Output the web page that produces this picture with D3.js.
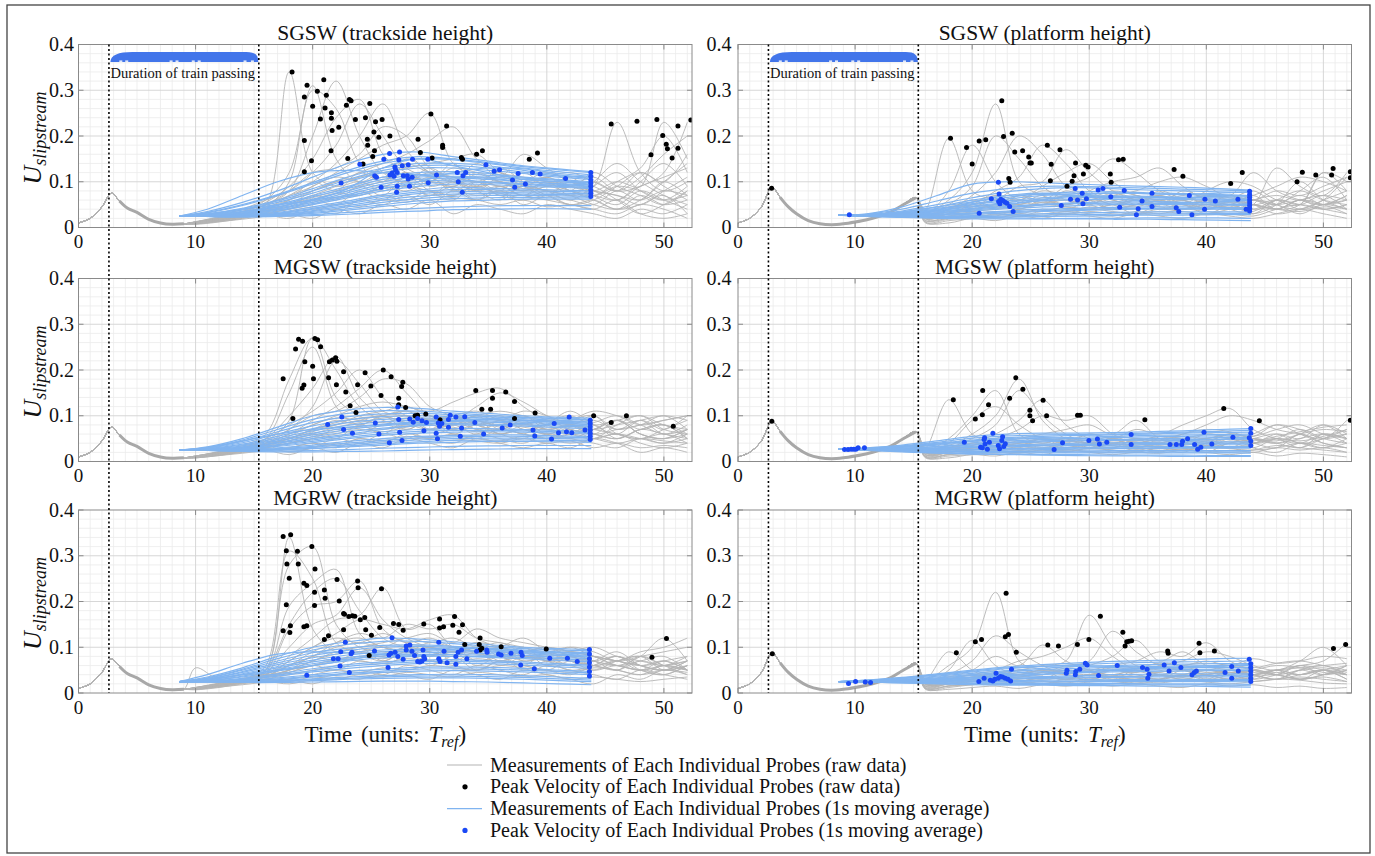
<!DOCTYPE html>
<html>
<head>
<meta charset="utf-8">
<script src="https://cdn.jsdelivr.net/npm/d3@7"></script>
<style>
  body { margin: 0; background: #fff; }
  text { fill: #111; }
</style>
</head>
<body>
<script>
// axis ticks
const X_MAX = 52.4;
const X_TICKS = [0, 10, 20, 30, 40, 50];
const Y_TICKS = [0, 0.1, 0.2, 0.3, 0.4];
const Y_TICK_LABELS = ["0", "0.1", "0.2", "0.3", "0.4"];
const TRAIN_START = 2.6, TRAIN_END = 15.4;

// shared start of the raw traces (before the train tail)
const ONSET_TRACK_T = [0, 1, 2, 2.8, 3.5, 4.2, 5, 6, 7, 8, 9];
const ONSET_TRACK_U = [.01, .02, .045, .075, .058, .042, .033, .018, .01, .007, .008];
const ONSET_PLAT_T = [0, 1, 2, 2.9, 3.6, 4.3, 5, 6, 7, 8, 9, 10, 11, 12, 13, 14, 15.2];
const ONSET_PLAT_U = [.01, .02, .045, .088, .066, .045, .03, .015, .008, .006, .008, .012, .017, .024, .033, .048, .065];

// time grids
const RAW_TRACK_T = [10, 12, 14, 16, 18, 20, 22, 24, 26, 28, 30, 32, 34, 36, 38, 40, 42, 44, 46, 48, 50, 52];
const RAW_PLAT_T = [16, 18, 20, 22, 24, 26, 28, 30, 32, 34, 36, 38, 40, 42, 44, 46, 48, 50, 52];
const AVG_T = [8.6, 11, 14, 17, 20, 23, 26, 29, 32, 35, 38, 41, 43.8];

// ---------- SGSW trackside ----------
const sgswTrackRaw = [
  [.012,.02,.03,.05,.34,.12,.09,.1,.08,.1,.07,.09,.06,.08,.05,.07,.06,.05,.08,.06,.1,.07],
  [.01,.018,.035,.06,.12,.31,.15,.1,.12,.09,.11,.08,.1,.07,.09,.08,.06,.09,.12,.08,.06,.09],
  [.013,.022,.03,.045,.1,.3,.26,.14,.1,.12,.09,.1,.08,.11,.09,.07,.1,.08,.06,.1,.14,.09],
  [.009,.016,.028,.05,.08,.2,.32,.2,.12,.1,.13,.1,.08,.09,.07,.09,.08,.12,.09,.07,.05,.08],
  [.011,.02,.033,.055,.09,.15,.24,.28,.16,.12,.1,.14,.09,.1,.08,.1,.07,.09,.23,.12,.08,.1],
  [.012,.024,.04,.06,.08,.12,.18,.27,.2,.13,.11,.09,.12,.1,.09,.11,.08,.07,.1,.13,.2,.12],
  [.008,.015,.025,.04,.07,.1,.14,.2,.27,.17,.12,.1,.09,.13,.1,.08,.09,.11,.08,.09,.12,.23],
  [.01,.02,.03,.05,.08,.12,.13,.16,.22,.2,.13,.11,.1,.09,.08,.1,.09,.08,.07,.06,.08,.07],
  [.012,.022,.035,.05,.07,.09,.12,.15,.18,.2,.25,.14,.12,.1,.08,.09,.1,.07,.09,.08,.06,.07],
  [.01,.018,.03,.045,.06,.08,.1,.12,.14,.16,.19,.22,.15,.12,.11,.1,.09,.1,.08,.12,.1,.16],
  [.009,.016,.024,.035,.05,.07,.09,.11,.12,.13,.14,.15,.16,.12,.1,.11,.09,.08,.1,.09,.23,.15],
  [.011,.02,.03,.04,.04,.06,.05,.08,.06,.09,.07,.1,.08,.06,.09,.07,.05,.06,.04,.07,.05,.06],
  [.007,.012,.02,.03,.03,.02,.04,.03,.05,.04,.06,.03,.05,.04,.03,.05,.04,.03,.02,.04,.03,.05],
  [.01,.015,.025,.035,.045,.07,.06,.09,.07,.11,.08,.06,.1,.08,.12,.09,.11,.07,.05,.08,.06,.04],
  [.008,.014,.022,.028,.02,.04,.03,.06,.05,.07,.05,.08,.06,.09,.07,.1,.08,.06,.04,.05,.07,.03],
  [.012,.02,.028,.04,.06,.1,.08,.12,.1,.15,.12,.1,.14,.11,.16,.13,.1,.09,.06,.03,.05,.08],
  [.01,.017,.026,.038,.05,.065,.08,.095,.11,.1,.12,.105,.09,.1,.085,.095,.08,.07,.06,.09,.11,.13],
  [.009,.014,.02,.03,.04,.05,.065,.07,.085,.09,.08,.07,.085,.075,.065,.08,.07,.1,.14,.1,.07,.05],
  [.011,.019,.028,.036,.045,.055,.07,.09,.1,.12,.1,.13,.11,.09,.1,.12,.1,.08,.07,.05,.08,.11],
  [.008,.013,.018,.025,.035,.045,.04,.06,.07,.06,.08,.07,.09,.07,.06,.07,.05,.06,.09,.12,.09,.06],
  [.012,.021,.03,.04,.05,.08,.1,.11,.13,.14,.12,.11,.1,.12,.09,.08,.07,.05,.04,.06,.1,.14],
  [.01,.016,.022,.03,.025,.035,.05,.045,.06,.055,.07,.065,.06,.05,.06,.045,.05,.04,.06,.03,.02,.03],
  [.009,.015,.024,.032,.04,.06,.075,.07,.09,.08,.1,.09,.11,.1,.09,.11,.12,.1,.08,.11,.16,.2],
  [.011,.018,.027,.04,.06,.09,.11,.1,.09,.11,.1,.085,.07,.08,.07,.06,.05,.04,.03,.05,.04,.02]
];
const sgswTrackAvg = [
  [.025,.035,.055,.08,.11,.14,.16,.165,.155,.145,.135,.128,.122],
  [.025,.032,.048,.07,.095,.12,.14,.15,.148,.14,.13,.122,.115],
  [.025,.03,.042,.06,.085,.11,.13,.14,.14,.135,.125,.115,.11],
  [.025,.028,.038,.055,.075,.1,.12,.13,.13,.125,.118,.11,.105],
  [.025,.027,.035,.05,.07,.09,.11,.12,.122,.118,.11,.105,.1],
  [.025,.026,.032,.045,.062,.08,.1,.11,.112,.11,.105,.1,.095],
  [.025,.026,.03,.04,.055,.072,.09,.1,.104,.1,.096,.092,.09],
  [.025,.025,.028,.036,.05,.065,.08,.09,.095,.094,.09,.088,.085],
  [.025,.025,.027,.033,.045,.058,.072,.082,.088,.086,.084,.082,.08],
  [.025,.025,.026,.03,.04,.052,.064,.074,.078,.078,.076,.075,.074],
  [.025,.024,.025,.028,.035,.045,.055,.063,.068,.07,.07,.069,.068],
  [.025,.024,.024,.026,.031,.038,.046,.053,.058,.06,.062,.062,.062],
  [.025,.024,.023,.025,.028,.033,.038,.042,.045,.047,.048,.048,.048],
  [.025,.024,.023,.024,.026,.029,.033,.036,.039,.04,.041,.041,.04],
  [.025,.04,.07,.1,.12,.125,.12,.115,.11,.108,.1,.095,.09],
  [.025,.03,.04,.05,.06,.085,.13,.15,.135,.12,.105,.1,.098],
  [.025,.028,.035,.045,.06,.07,.085,.1,.12,.13,.128,.118,.112],
  [.025,.033,.05,.072,.098,.125,.145,.155,.15,.142,.133,.126,.12],
  [.025,.029,.04,.058,.08,.105,.125,.135,.136,.13,.121,.113,.108],
  [.025,.027,.034,.048,.067,.085,.105,.115,.117,.114,.108,.103,.098],
  [.025,.026,.031,.042,.058,.076,.095,.105,.108,.105,.1,.096,.093],
  [.025,.025,.029,.038,.052,.068,.085,.095,.1,.098,.094,.09,.087],
  [.025,.025,.027,.031,.042,.055,.068,.078,.083,.083,.08,.079,.077],
  [.025,.024,.025,.029,.037,.048,.06,.068,.073,.074,.073,.072,.071],
  [.025,.024,.024,.027,.033,.041,.05,.058,.063,.065,.066,.065,.065]
];
const sgswTrackPeakRaw = [[18.24,.340],[19.52,.311],[19.29,.285],[20.4,.298],[20.95,.323],[21.17,.289],[20.0,.265],[21.06,.261],[21.6,.251],[20.66,.237],[21.6,.239],[21.66,.212],[22.23,.219],[23.14,.280],[23.28,.277],[22.88,.267],[23.65,.236],[24.51,.240],[24.88,.271],[25.37,.231],[25.93,.236],[25.23,.209],[25.65,.197],[24.67,.193],[24.7,.180],[25.28,.168],[25.13,.155],[23.0,.151],[21.57,.168],[19.9,.146],[19.29,.190],[19.29,.122],[24.3,.139],[26.6,.200],[29.0,.193],[30.1,.248],[31.44,.222],[29.2,.164],[30.2,.152],[31.1,.180],[31.1,.175],[32.7,.153],[32.8,.149],[34.0,.160],[34.5,.168],[38.5,.149],[39.2,.163],[45.5,.226],[47.7,.232],[49.4,.236],[51.2,.222],[52.3,.235],[49.9,.201],[50.2,.182],[51.2,.173],[50.3,.172],[50.7,.152],[48.9,.159]];
const sgswTrackPeakAvg = [[22.43,.097],[24.03,.138],[25.3,.113],[25.45,.110],[25.85,.088],[26.08,.149],[26.57,.162],[27.42,.165],[27.02,.132],[27.08,.126],[26.6,.115],[26.79,.119],[26.95,.112],[27.22,.120],[27.36,.148],[27.65,.135],[28.16,.137],[28.53,.149],[27.74,.113],[28.08,.113],[28.16,.106],[28.5,.110],[27.22,.090],[28.27,.090],[27.17,.077],[29.84,.149],[29.87,.098],[30.58,.115],[32.35,.120],[32.84,.113],[33.07,.120],[32.44,.100],[32.78,.077],[34.8,.137],[35.5,.123],[35.96,.126],[37.07,.104],[37.55,.118],[37.26,.088],[38.17,.095],[38.77,.120],[39.43,.117],[41.6,.107],[43.76,.120],[43.76,.112],[43.76,.104],[43.76,.097],[43.76,.090],[43.76,.082],[43.76,.075],[43.76,.068]];

// ---------- SGSW platform ----------
const sgswPlatRaw = [
  [.04,.195,.08,.06,.05,.07,.04,.06,.05,.03,.05,.04,.06,.04,.03,.05,.1,.06,.04],
  [.03,.08,.18,.1,.06,.05,.07,.05,.04,.06,.04,.05,.03,.05,.06,.04,.05,.12,.08],
  [.035,.06,.12,.27,.1,.07,.05,.06,.04,.05,.07,.05,.04,.06,.05,.03,.04,.06,.11],
  [.025,.05,.09,.2,.15,.09,.06,.05,.07,.05,.06,.04,.05,.04,.06,.05,.03,.05,.04],
  [.03,.04,.07,.12,.2,.16,.09,.07,.05,.06,.05,.07,.05,.06,.04,.05,.07,.05,.06],
  [.02,.04,.05,.08,.11,.18,.14,.08,.06,.05,.07,.04,.06,.05,.07,.04,.06,.04,.05],
  [.028,.03,.05,.06,.09,.1,.17,.12,.08,.06,.05,.06,.04,.05,.03,.06,.05,.07,.04],
  [.02,.035,.04,.07,.06,.09,.12,.14,.1,.07,.06,.05,.06,.04,.05,.04,.06,.05,.03],
  [.025,.03,.045,.05,.07,.06,.09,.11,.15,.12,.08,.06,.05,.07,.05,.06,.04,.05,.06],
  [.02,.03,.04,.045,.05,.06,.05,.08,.1,.11,.13,.09,.06,.05,.04,.06,.05,.04,.05],
  [.015,.025,.035,.04,.045,.05,.06,.05,.07,.08,.1,.11,.09,.07,.12,.08,.06,.05,.07],
  [.018,.02,.03,.025,.04,.035,.045,.04,.05,.045,.06,.05,.08,.1,.09,.06,.05,.12,.1],
  [.01,.015,.02,.03,.025,.035,.03,.04,.035,.03,.04,.035,.03,.04,.05,.13,.09,.07,.12],
  [.012,.01,.02,.015,.025,.02,.03,.025,.02,.03,.025,.02,.03,.025,.02,.03,.04,.03,.02],
  [.025,.04,.06,.04,.07,.05,.08,.06,.04,.07,.05,.08,.06,.04,.06,.05,.08,.11,.06],
  [.03,.02,.035,.05,.04,.06,.05,.07,.06,.05,.08,.06,.04,.06,.08,.05,.04,.06,.08],
  [.03,.04,.05,.045,.06,.055,.07,.065,.08,.07,.06,.075,.065,.055,.07,.09,.11,.1,.08],
  [.02,.025,.03,.035,.03,.04,.035,.045,.04,.05,.045,.04,.05,.045,.06,.07,.06,.08,.1],
  [.035,.05,.045,.06,.05,.065,.06,.07,.055,.065,.05,.06,.07,.06,.05,.04,.06,.05,.07],
  [.015,.02,.025,.02,.03,.025,.035,.03,.025,.035,.03,.04,.035,.03,.025,.04,.05,.04,.03],
  [.025,.035,.04,.05,.045,.055,.05,.06,.07,.06,.05,.065,.055,.07,.06,.08,.07,.09,.11],
  [.02,.03,.035,.03,.04,.05,.045,.04,.05,.06,.055,.05,.045,.055,.05,.04,.035,.045,.04],
  [.012,.018,.022,.028,.025,.03,.028,.035,.03,.028,.035,.03,.028,.03,.035,.06,.08,.06,.05],
  [.03,.045,.055,.07,.06,.08,.07,.06,.075,.065,.07,.06,.07,.065,.06,.05,.06,.07,.06]
];
const sgswPlatAvg = [
  [.027,.03,.045,.07,.095,.1,.098,.095,.092,.09,.088,.085,.082],
  [.027,.028,.036,.05,.065,.078,.085,.087,.085,.082,.08,.078,.077],
  [.027,.028,.034,.045,.056,.066,.074,.078,.078,.076,.074,.072,.07],
  [.027,.027,.032,.04,.05,.058,.065,.068,.069,.068,.066,.065,.064],
  [.027,.027,.03,.037,.045,.052,.058,.061,.062,.062,.061,.06,.058],
  [.027,.026,.029,.034,.04,.046,.051,.054,.056,.056,.055,.054,.053],
  [.027,.026,.028,.031,.036,.041,.045,.048,.05,.05,.05,.049,.048],
  [.027,.026,.027,.029,.032,.036,.04,.042,.044,.045,.045,.044,.043],
  [.027,.025,.026,.027,.029,.032,.035,.037,.039,.04,.04,.04,.039],
  [.027,.025,.025,.025,.026,.028,.03,.032,.033,.034,.034,.034,.034],
  [.027,.024,.023,.022,.022,.023,.024,.025,.026,.027,.027,.028,.028],
  [.027,.024,.022,.02,.019,.019,.019,.02,.02,.021,.021,.021,.02],
  [.027,.025,.024,.023,.022,.021,.02,.019,.018,.018,.017,.016,.015],
  [.027,.026,.03,.038,.055,.07,.075,.07,.062,.058,.055,.056,.06],
  [.027,.027,.031,.036,.042,.05,.06,.07,.075,.074,.072,.075,.078],
  [.027,.029,.04,.058,.075,.085,.09,.09,.088,.086,.084,.082,.08],
  [.027,.028,.033,.042,.052,.062,.07,.074,.075,.074,.072,.07,.068],
  [.027,.027,.031,.038,.047,.055,.062,.065,.066,.065,.063,.062,.061],
  [.027,.026,.028,.032,.038,.044,.049,.052,.053,.053,.052,.051,.05],
  [.027,.026,.026,.028,.031,.034,.037,.039,.041,.042,.042,.041,.041],
  [.027,.025,.024,.024,.024,.025,.027,.028,.029,.03,.03,.031,.031],
  [.027,.028,.034,.045,.06,.07,.072,.07,.068,.066,.066,.068,.07]
];
const sgswPlatPeakRaw = [[2.87,.086],[18.15,.195],[19.52,.175],[20.0,.139],[20.6,.189],[21.16,.192],[22.53,.277],[22.68,.199],[23.42,.206],[23.13,.107],[23.24,.099],[23.64,.165],[24.31,.168],[24.83,.154],[24.94,.141],[25.05,.141],[26.42,.180],[26.68,.102],[26.75,.138],[27.5,.170],[28.1,.090],[28.54,.101],[28.7,.113],[28.83,.141],[29.5,.117],[29.7,.136],[29.9,.132],[31.8,.117],[31.87,.099],[32.5,.148],[32.9,.149],[37.25,.127],[38.0,.112],[42.08,.096],[43.07,.120],[47.75,.100],[48.2,.121],[49.35,.115],[50.7,.115],[50.83,.129],[52.3,.122],[52.3,.109]];
const sgswPlatPeakAvg = [[9.51,.028],[20.6,.031],[21.64,.063],[22.24,.099],[22.3,.073],[22.26,.057],[22.45,.062],[22.63,.059],[22.82,.055],[22.97,.053],[23.2,.046],[23.5,.035],[22.37,.052],[27.61,.048],[28.4,.062],[28.8,.085],[29.0,.060],[29.4,.075],[29.46,.052],[29.76,.063],[30.76,.082],[31.17,.085],[31.84,.067],[32.99,.081],[32.6,.044],[34.03,.028],[34.18,.041],[34.51,.058],[35.36,.075],[35.36,.046],[37.43,.043],[37.65,.035],[38.55,.070],[38.77,.028],[39.85,.040],[39.88,.062],[40.77,.058],[42.7,.062],[43.4,.040],[43.7,.079],[43.7,.072],[43.7,.066],[43.7,.060],[43.7,.054],[43.7,.048],[43.7,.042],[43.7,.036]];

// ---------- MGSW trackside ----------
const mgswTrackRaw = [
  [.01,.02,.03,.05,.15,.25,.12,.08,.1,.07,.09,.06,.08,.06,.07,.05,.06,.08,.05,.07,.06,.05],
  [.012,.022,.035,.06,.18,.27,.14,.1,.08,.1,.07,.08,.06,.09,.07,.06,.05,.07,.09,.06,.05,.07],
  [.009,.018,.028,.045,.09,.27,.2,.12,.09,.08,.1,.07,.09,.06,.08,.07,.06,.05,.08,.1,.07,.06],
  [.011,.02,.03,.05,.1,.16,.23,.14,.1,.09,.08,.1,.07,.08,.06,.09,.07,.06,.05,.07,.08,.05],
  [.01,.019,.027,.04,.07,.12,.22,.17,.11,.1,.09,.08,.1,.07,.09,.06,.08,.07,.06,.05,.07,.09],
  [.012,.021,.032,.05,.08,.11,.15,.2,.14,.1,.09,.1,.08,.07,.09,.08,.06,.07,.09,.06,.05,.06],
  [.008,.015,.025,.04,.06,.09,.12,.16,.2,.15,.1,.09,.08,.1,.07,.08,.09,.1,.06,.05,.06,.04],
  [.01,.018,.03,.045,.07,.1,.11,.14,.18,.17,.12,.1,.09,.08,.1,.07,.08,.06,.07,.08,.1,.07],
  [.011,.02,.03,.04,.06,.08,.1,.12,.13,.12,.11,.13,.15,.16,.12,.09,.08,.07,.09,.06,.05,.07],
  [.009,.016,.025,.035,.05,.07,.08,.1,.11,.12,.1,.09,.12,.15,.13,.1,.08,.1,.07,.09,.06,.08],
  [.01,.017,.026,.03,.04,.05,.07,.06,.08,.07,.09,.08,.1,.09,.11,.1,.08,.06,.09,.07,.08,.05],
  [.008,.013,.02,.025,.03,.04,.03,.05,.04,.06,.05,.04,.06,.05,.04,.06,.05,.04,.03,.05,.04,.06],
  [.012,.02,.028,.035,.02,.03,.05,.04,.06,.05,.07,.06,.05,.07,.06,.05,.07,.05,.06,.04,.03,.04],
  [.01,.015,.022,.03,.045,.06,.05,.08,.06,.09,.07,.1,.08,.06,.05,.08,.11,.08,.06,.09,.07,.1],
  [.009,.014,.02,.025,.015,.03,.02,.04,.03,.05,.04,.03,.05,.04,.03,.04,.03,.05,.04,.02,.03,.02],
  [.011,.02,.03,.04,.05,.07,.09,.08,.1,.11,.09,.1,.08,.09,.1,.08,.09,.11,.1,.08,.09,.1],
  [.01,.017,.026,.036,.05,.065,.08,.09,.1,.085,.095,.08,.09,.075,.085,.07,.08,.09,.07,.08,.09,.1],
  [.009,.015,.022,.03,.04,.055,.065,.075,.07,.08,.07,.085,.07,.06,.07,.06,.075,.085,.1,.08,.06,.07],
  [.011,.019,.027,.034,.045,.06,.075,.085,.095,.1,.09,.1,.11,.09,.08,.09,.07,.06,.05,.07,.08,.06],
  [.008,.013,.018,.024,.03,.04,.035,.05,.045,.055,.05,.06,.05,.045,.055,.05,.04,.05,.06,.05,.04,.05],
  [.012,.02,.028,.038,.05,.07,.085,.095,.1,.11,.1,.09,.1,.11,.1,.09,.1,.08,.09,.1,.08,.07],
  [.01,.016,.022,.028,.022,.03,.04,.035,.05,.045,.055,.05,.045,.04,.05,.04,.045,.03,.04,.03,.035,.03],
  [.009,.015,.023,.03,.04,.05,.06,.07,.065,.075,.08,.07,.08,.085,.075,.07,.08,.07,.08,.09,.1,.09],
  [.011,.018,.026,.036,.055,.08,.095,.09,.085,.095,.08,.075,.065,.07,.06,.05,.06,.05,.04,.05,.045,.04]
];
const mgswTrackAvg = [
  [.025,.032,.05,.075,.1,.113,.118,.116,.11,.105,.1,.097,.095],
  [.025,.03,.044,.065,.085,.098,.104,.105,.102,.098,.094,.09,.088],
  [.025,.028,.038,.055,.072,.085,.092,.095,.094,.092,.089,.086,.084],
  [.025,.027,.034,.048,.062,.074,.082,.086,.087,.086,.083,.08,.078],
  [.025,.026,.031,.042,.054,.065,.073,.078,.08,.079,.077,.074,.072],
  [.025,.026,.029,.037,.047,.057,.065,.07,.072,.072,.07,.068,.066],
  [.025,.025,.027,.033,.041,.05,.057,.062,.064,.065,.064,.062,.06],
  [.025,.025,.026,.03,.036,.044,.05,.055,.057,.058,.058,.056,.055],
  [.025,.024,.025,.027,.031,.037,.043,.047,.05,.051,.051,.05,.049],
  [.025,.024,.024,.025,.028,.032,.036,.04,.042,.044,.044,.043,.042],
  [.025,.024,.023,.023,.024,.026,.029,.031,.033,.034,.035,.035,.035],
  [.025,.024,.022,.021,.021,.022,.023,.025,.026,.027,.028,.028,.028],
  [.025,.03,.045,.06,.07,.075,.08,.085,.09,.092,.09,.085,.08],
  [.025,.026,.03,.04,.05,.06,.07,.08,.088,.094,.096,.095,.092],
  [.025,.031,.047,.07,.092,.105,.111,.11,.106,.101,.097,.093,.091],
  [.025,.029,.041,.06,.078,.091,.098,.1,.098,.095,.091,.088,.086],
  [.025,.027,.036,.051,.067,.079,.087,.09,.09,.089,.086,.083,.081],
  [.025,.026,.032,.045,.058,.07,.078,.082,.083,.082,.08,.077,.075],
  [.025,.025,.028,.035,.044,.053,.061,.066,.068,.068,.067,.065,.063],
  [.025,.025,.026,.028,.033,.04,.046,.051,.054,.055,.055,.053,.052],
  [.025,.024,.024,.026,.029,.034,.039,.043,.046,.047,.047,.046,.045]
];
const mgswTrackPeakRaw = [[17.48,.181],[18.31,.094],[18.54,.246],[18.8,.267],[19.14,.263],[19.33,.218],[19.1,.160],[19.25,.167],[20.0,.208],[20.19,.269],[20.42,.266],[20.68,.251],[20.07,.181],[21.43,.218],[21.68,.222],[21.96,.227],[22.07,.219],[21.36,.183],[22.03,.168],[22.64,.196],[22.83,.152],[23.2,.122],[23.7,.107],[23.84,.168],[24.48,.194],[24.97,.165],[25.84,.144],[26.03,.200],[26.7,.185],[27.35,.138],[27.6,.164],[27.7,.173],[27.35,.124],[27.94,.118],[28.96,.101],[29.66,.104],[30.88,.091],[28.75,.100],[33.93,.155],[35.36,.155],[35.36,.138],[35.2,.114],[34.45,.114],[36.49,.152],[37.24,.131],[37.24,.094],[39.0,.106],[44.0,.100],[45.5,.085],[46.8,.100],[50.8,.077]];
const mgswTrackPeakAvg = [[21.28,.081],[22.49,.097],[22.64,.070],[23.4,.062],[25.35,.084],[25.66,.060],[26.55,.041],[27.27,.119],[27.35,.092],[27.43,.064],[27.63,.046],[28.29,.093],[28.59,.086],[28.96,.094],[29.34,.089],[29.5,.067],[29.72,.085],[30.55,.097],[30.73,.084],[30.84,.077],[30.55,.062],[30.66,.050],[31.03,.083],[31.75,.101],[31.6,.092],[31.6,.075],[32.23,.097],[32.72,.073],[32.61,.055],[32.99,.098],[33.85,.085],[34.6,.060],[36.19,.073],[36.87,.080],[38.82,.069],[38.97,.056],[40.4,.049],[40.63,.083],[41.0,.063],[41.91,.097],[41.68,.065],[42.13,.063],[43.26,.069],[43.71,.090],[43.71,.083],[43.71,.076],[43.71,.069],[43.71,.062],[43.71,.055],[43.71,.048]];

// ---------- MGSW platform ----------
const mgswPlatRaw = [
  [.03,.135,.06,.04,.03,.05,.03,.04,.02,.03,.04,.03,.02,.04,.03,.05,.04,.03,.05],
  [.025,.05,.1,.155,.06,.04,.05,.03,.04,.03,.02,.04,.03,.05,.04,.03,.06,.04,.03],
  [.02,.04,.09,.12,.08,.05,.04,.03,.05,.04,.03,.02,.04,.03,.05,.04,.03,.05,.06],
  [.03,.035,.06,.1,.18,.09,.05,.04,.03,.05,.04,.03,.04,.05,.03,.02,.04,.03,.04],
  [.02,.03,.05,.08,.155,.1,.06,.04,.05,.03,.04,.05,.03,.04,.05,.06,.04,.05,.07],
  [.025,.03,.04,.06,.09,.135,.08,.05,.04,.05,.03,.04,.05,.03,.04,.05,.03,.06,.05],
  [.015,.025,.035,.05,.07,.1,.09,.1,.06,.04,.05,.03,.04,.06,.04,.05,.07,.05,.04],
  [.02,.02,.03,.04,.05,.06,.07,.08,.06,.09,.05,.04,.06,.05,.04,.06,.05,.08,.06],
  [.018,.025,.03,.035,.04,.05,.04,.06,.05,.07,.06,.08,.1,.116,.07,.05,.04,.06,.05],
  [.012,.02,.025,.03,.035,.03,.04,.035,.045,.04,.05,.06,.08,.1,.09,.07,.06,.05,.09],
  [.01,.015,.02,.025,.02,.03,.025,.035,.03,.04,.035,.045,.05,.06,.05,.04,.06,.08,.05],
  [.008,.012,.015,.02,.018,.025,.02,.03,.025,.02,.03,.025,.035,.03,.02,.03,.025,.03,.02],
  [.015,.02,.03,.025,.04,.035,.045,.04,.035,.045,.04,.05,.045,.06,.055,.08,.06,.04,.03],
  [.01,.008,.015,.012,.02,.015,.025,.02,.015,.02,.018,.025,.02,.015,.02,.012,.018,.015,.01],
  [.02,.03,.025,.04,.035,.05,.045,.06,.05,.045,.055,.05,.06,.055,.05,.045,.06,.07,.065],
  [.02,.03,.04,.035,.045,.04,.05,.045,.055,.05,.045,.055,.05,.06,.055,.07,.08,.06,.05],
  [.015,.02,.025,.03,.025,.035,.03,.04,.035,.03,.04,.035,.045,.04,.06,.08,.07,.05,.06],
  [.025,.035,.03,.045,.04,.05,.045,.04,.05,.045,.055,.05,.04,.05,.045,.055,.065,.075,.08],
  [.01,.015,.018,.022,.02,.025,.022,.028,.025,.022,.028,.025,.03,.028,.025,.03,.04,.035,.03],
  [.02,.025,.035,.04,.035,.045,.05,.045,.04,.05,.045,.06,.07,.065,.05,.04,.05,.06,.04],
  [.018,.022,.028,.025,.032,.028,.035,.03,.038,.035,.03,.038,.035,.045,.04,.05,.045,.055,.07],
  [.012,.016,.02,.018,.024,.02,.026,.022,.02,.026,.022,.028,.024,.02,.025,.035,.03,.025,.02]
];
const mgswPlatAvg = [
  [.027,.03,.036,.045,.055,.06,.062,.062,.063,.065,.067,.07,.072],
  [.027,.029,.033,.04,.047,.052,.055,.057,.058,.06,.062,.063,.064],
  [.027,.028,.031,.036,.041,.045,.048,.05,.052,.054,.055,.056,.056],
  [.027,.027,.029,.032,.036,.04,.043,.045,.046,.047,.048,.049,.049],
  [.027,.027,.028,.03,.033,.036,.038,.04,.041,.042,.043,.043,.043],
  [.027,.026,.027,.028,.03,.032,.034,.035,.036,.037,.038,.038,.038],
  [.027,.026,.026,.026,.027,.028,.03,.031,.032,.033,.033,.033,.033],
  [.027,.026,.025,.025,.025,.025,.026,.027,.028,.028,.029,.029,.029],
  [.027,.025,.024,.023,.022,.022,.023,.023,.024,.024,.024,.024,.024],
  [.027,.025,.023,.021,.02,.019,.019,.019,.019,.019,.019,.019,.018],
  [.027,.025,.022,.019,.017,.016,.015,.015,.014,.014,.014,.013,.013],
  [.027,.028,.032,.038,.045,.05,.052,.05,.048,.047,.046,.048,.05],
  [.027,.029,.034,.042,.051,.056,.058,.059,.06,.062,.064,.066,.068],
  [.027,.028,.032,.038,.044,.048,.051,.053,.055,.057,.058,.059,.06],
  [.027,.027,.029,.033,.038,.042,.045,.047,.048,.05,.051,.052,.052],
  [.027,.026,.027,.029,.031,.034,.036,.037,.038,.039,.04,.04,.04],
  [.027,.026,.025,.026,.026,.027,.028,.029,.03,.03,.031,.031,.031],
  [.027,.025,.023,.022,.021,.021,.021,.021,.021,.021,.021,.021,.021],
  [.027,.024,.021,.018,.016,.015,.014,.013,.012,.012,.011,.011,.011]
];
const mgswPlatPeakRaw = [[2.89,.088],[18.39,.135],[20.27,.093],[20.87,.102],[20.9,.155],[21.4,.124],[23.2,.138],[23.73,.183],[24.33,.158],[24.93,.112],[24.93,.100],[25.16,.089],[26.06,.134],[26.36,.100],[29.0,.101],[29.24,.101],[34.75,.091],[41.49,.116],[44.53,.089],[52.3,.090]];
const mgswPlatPeakAvg = [[9.1,.026],[9.4,.026],[9.66,.027],[9.88,.027],[10.07,.027],[10.26,.030],[10.8,.030],[19.33,.042],[20.72,.031],[21.02,.048],[21.1,.038],[21.47,.042],[21.77,.062],[21.06,.052],[20.87,.030],[21.3,.027],[22.23,.035],[22.53,.046],[22.6,.054],[22.7,.033],[22.83,.039],[22.34,.028],[27.0,.026],[27.72,.041],[29.97,.046],[30.7,.049],[30.87,.038],[31.5,.042],[33.58,.059],[33.58,.037],[36.9,.037],[37.44,.037],[37.9,.037],[37.97,.044],[38.4,.050],[39.0,.037],[39.26,.027],[39.53,.031],[39.8,.064],[40.47,.038],[42.27,.053],[43.67,.052],[43.8,.072],[43.8,.062],[43.8,.045],[43.8,.035]];

// ---------- MGRW trackside ----------
const mgrwTrackRaw = [
  [.012,.02,.03,.05,.34,.14,.09,.1,.07,.09,.06,.08,.05,.07,.06,.05,.07,.06,.05,.04,.06,.05],
  [.01,.018,.028,.06,.31,.25,.11,.09,.08,.1,.07,.09,.06,.08,.05,.07,.06,.05,.07,.08,.05,.06],
  [.011,.02,.03,.05,.28,.32,.15,.1,.09,.08,.1,.07,.09,.06,.08,.07,.05,.06,.08,.05,.04,.06],
  [.009,.016,.026,.045,.19,.24,.27,.13,.1,.09,.08,.1,.07,.08,.06,.09,.07,.05,.06,.05,.07,.05],
  [.012,.022,.032,.05,.15,.22,.25,.18,.12,.1,.09,.08,.1,.07,.09,.06,.08,.07,.05,.08,.06,.04],
  [.01,.019,.028,.04,.14,.19,.2,.245,.14,.11,.1,.09,.08,.1,.07,.08,.06,.07,.09,.06,.05,.07],
  [.011,.02,.03,.045,.1,.15,.17,.23,.16,.12,.1,.09,.11,.08,.1,.07,.08,.06,.07,.05,.06,.05],
  [.009,.017,.027,.04,.08,.12,.16,.17,.23,.14,.15,.1,.09,.08,.1,.07,.09,.08,.06,.05,.04,.06],
  [.01,.018,.028,.04,.07,.1,.13,.16,.15,.14,.16,.17,.12,.1,.09,.1,.08,.07,.06,.08,.12,.07],
  [.012,.02,.03,.042,.06,.08,.11,.13,.12,.15,.14,.15,.12,.11,.1,.09,.1,.08,.07,.06,.05,.06],
  [.008,.014,.022,.035,.05,.07,.09,.1,.11,.12,.13,.11,.14,.12,.11,.1,.09,.08,.06,.07,.08,.05],
  [.01,.016,.024,.03,.04,.05,.06,.08,.07,.09,.08,.1,.09,.1,.12,.09,.07,.06,.05,.07,.06,.08],
  [.007,.012,.02,.025,.02,.03,.04,.05,.04,.06,.05,.04,.06,.05,.04,.06,.05,.04,.03,.05,.04,.03],
  [.011,.018,.026,.035,.045,.06,.05,.07,.06,.08,.07,.06,.05,.07,.06,.05,.04,.06,.08,.06,.05,.07],
  [.009,.015,.022,.028,.03,.02,.035,.03,.045,.04,.03,.05,.04,.03,.05,.04,.03,.02,.04,.03,.05,.04],
  [.055,.03,.04,.04,.05,.08,.07,.09,.08,.1,.09,.08,.1,.09,.07,.08,.1,.09,.07,.08,.09,.1],
  [.01,.017,.026,.036,.06,.08,.1,.11,.1,.12,.11,.12,.1,.11,.09,.1,.08,.07,.08,.06,.07,.08],
  [.009,.015,.022,.032,.05,.07,.085,.09,.1,.09,.1,.09,.11,.1,.09,.08,.09,.1,.08,.07,.06,.07],
  [.011,.019,.027,.035,.07,.1,.12,.11,.13,.11,.12,.1,.09,.1,.08,.07,.06,.08,.07,.09,.1,.12],
  [.008,.013,.018,.024,.03,.04,.05,.045,.055,.05,.06,.055,.05,.06,.055,.05,.045,.055,.05,.04,.05,.045],
  [.012,.02,.028,.038,.06,.09,.11,.12,.1,.09,.11,.1,.09,.08,.09,.1,.09,.07,.06,.05,.06,.07],
  [.01,.016,.022,.028,.025,.035,.03,.04,.035,.045,.04,.035,.045,.04,.035,.04,.03,.035,.03,.025,.03,.035],
  [.009,.015,.023,.03,.045,.06,.07,.08,.075,.085,.08,.09,.085,.08,.075,.085,.09,.08,.07,.06,.07,.05],
  [.011,.018,.026,.036,.05,.06,.075,.07,.065,.075,.07,.065,.075,.07,.08,.075,.07,.06,.07,.08,.06,.05]
];
const mgrwTrackAvg = [
  [.025,.035,.055,.08,.1,.112,.12,.118,.112,.106,.1,.097,.095],
  [.025,.032,.05,.07,.088,.098,.104,.105,.102,.098,.094,.09,.088],
  [.025,.03,.045,.062,.077,.088,.094,.096,.095,.092,.088,.085,.082],
  [.025,.028,.04,.055,.068,.078,.085,.088,.088,.086,.082,.078,.075],
  [.025,.027,.035,.048,.06,.07,.077,.08,.08,.078,.075,.071,.068],
  [.025,.026,.032,.042,.053,.062,.068,.072,.073,.071,.068,.064,.061],
  [.025,.026,.029,.037,.046,.054,.06,.064,.065,.064,.061,.057,.054],
  [.025,.025,.027,.033,.04,.047,.052,.056,.057,.056,.054,.05,.047],
  [.025,.025,.026,.029,.035,.04,.045,.048,.049,.048,.046,.043,.04],
  [.025,.024,.025,.027,.031,.035,.038,.04,.041,.04,.038,.035,.032],
  [.025,.024,.024,.025,.027,.03,.032,.033,.033,.032,.03,.027,.025],
  [.025,.024,.023,.023,.024,.025,.026,.026,.025,.024,.022,.02,.018],
  [.025,.04,.065,.085,.09,.088,.085,.082,.08,.08,.082,.083,.08],
  [.025,.03,.04,.05,.06,.072,.085,.095,.098,.095,.09,.088,.09],
  [.025,.033,.052,.075,.094,.106,.113,.113,.108,.102,.097,.094,.092],
  [.025,.03,.047,.066,.082,.093,.1,.102,.1,.096,.092,.088,.085],
  [.025,.028,.042,.058,.072,.083,.09,.092,.092,.09,.086,.082,.078],
  [.025,.027,.037,.051,.064,.074,.081,.084,.084,.082,.078,.075,.071],
  [.025,.026,.03,.039,.049,.058,.064,.068,.069,.068,.065,.061,.058],
  [.025,.025,.027,.031,.037,.043,.048,.052,.053,.052,.05,.047,.044],
  [.025,.024,.024,.026,.029,.032,.035,.037,.037,.036,.034,.031,.028]
];
const mgrwTrackPeakRaw = [[17.48,.342],[18.12,.346],[17.75,.311],[17.8,.282],[18.0,.251],[17.75,.193],[18.1,.147],[18.05,.132],[17.48,.136],[18.7,.310],[18.77,.282],[19.25,.240],[19.5,.235],[19.25,.145],[19.5,.147],[19.93,.320],[20.2,.271],[20.16,.220],[20.16,.191],[21.0,.225],[21.06,.207],[21.0,.117],[21.35,.125],[22.08,.248],[22.27,.201],[22.64,.174],[22.72,.172],[22.64,.138],[23.09,.167],[23.4,.169],[23.6,.168],[23.84,.245],[23.88,.230],[24.07,.160],[24.45,.165],[24.53,.138],[25.02,.126],[24.83,.082],[25.88,.228],[25.73,.143],[26.9,.152],[27.35,.150],[27.73,.137],[29.49,.151],[30.84,.142],[30.84,.162],[31.18,.145],[32.12,.167],[31.97,.148],[32.5,.133],[32.8,.149],[32.99,.106],[34.3,.120],[34.23,.106],[34.3,.094],[34.45,.098],[36.1,.101],[39.95,.096],[48.98,.078],[50.22,.119]];
const mgrwTrackPeakAvg = [[19.5,.039],[21.77,.075],[22.18,.075],[22.34,.059],[22.4,.090],[22.79,.111],[23.13,.045],[23.28,.086],[23.36,.089],[25.28,.092],[26.78,.121],[26.52,.083],[26.44,.056],[26.67,.087],[27.04,.089],[27.27,.080],[27.73,.074],[27.99,.103],[27.99,.094],[28.3,.105],[28.48,.091],[28.7,.082],[28.97,.069],[29.15,.068],[29.34,.070],[29.42,.094],[29.49,.080],[29.57,.075],[30.77,.111],[30.77,.075],[30.88,.069],[31.22,.091],[31.48,.066],[32.23,.063],[32.23,.080],[32.42,.089],[32.72,.094],[33.17,.075],[34.0,.091],[34.87,.094],[34.9,.089],[35.88,.085],[36.1,.083],[36.94,.087],[37.8,.089],[37.9,.082],[37.77,.061],[38.93,.053],[40.25,.076],[41.76,.076],[42.6,.069],[43.64,.095],[43.64,.085],[43.64,.075],[43.64,.066],[43.64,.057],[43.64,.047],[43.64,.037]];

// ---------- MGRW platform ----------
const mgrwPlatRaw = [
  [.03,.09,.05,.03,.04,.03,.05,.03,.04,.02,.03,.04,.03,.05,.04,.03,.04,.05,.03],
  [.025,.05,.115,.06,.04,.05,.03,.04,.03,.05,.04,.03,.04,.03,.05,.04,.03,.04,.06],
  [.03,.06,.1,.22,.07,.05,.04,.05,.03,.04,.03,.05,.04,.03,.04,.05,.03,.05,.04],
  [.02,.04,.07,.125,.09,.06,.04,.03,.05,.04,.03,.04,.05,.04,.03,.04,.06,.04,.05],
  [.025,.035,.05,.08,.06,.105,.07,.05,.04,.05,.04,.03,.04,.05,.04,.03,.05,.06,.04],
  [.02,.03,.04,.05,.07,.08,.1,.12,.08,.05,.04,.05,.03,.04,.05,.04,.03,.04,.05],
  [.015,.025,.035,.045,.05,.06,.07,.17,.1,.06,.05,.04,.05,.04,.03,.05,.04,.05,.03],
  [.02,.02,.03,.04,.05,.045,.06,.07,.135,.09,.06,.05,.04,.05,.04,.03,.05,.04,.06],
  [.018,.025,.03,.035,.04,.05,.045,.06,.08,.115,.07,.09,.06,.05,.04,.05,.04,.05,.04],
  [.012,.02,.025,.03,.035,.04,.05,.045,.06,.07,.09,.08,.11,.07,.05,.04,.06,.05,.04],
  [.01,.015,.02,.025,.03,.035,.03,.04,.05,.045,.06,.07,.09,.08,.06,.05,.07,.1,.06],
  [.008,.012,.018,.02,.025,.02,.03,.025,.035,.03,.04,.035,.05,.045,.04,.05,.06,.07,.11],
  [.015,.02,.025,.03,.025,.035,.03,.04,.035,.03,.04,.035,.04,.03,.035,.04,.03,.035,.025],
  [.01,.008,.012,.015,.01,.018,.015,.02,.015,.02,.015,.012,.02,.015,.018,.012,.015,.01,.012],
  [.02,.03,.04,.035,.05,.04,.055,.05,.06,.055,.065,.06,.07,.06,.075,.065,.07,.08,.075],
  [.02,.03,.04,.035,.045,.04,.05,.045,.055,.05,.045,.055,.05,.06,.055,.065,.07,.06,.05],
  [.015,.02,.025,.03,.025,.035,.03,.04,.035,.03,.04,.035,.045,.04,.05,.06,.055,.045,.04],
  [.025,.035,.03,.045,.04,.05,.045,.04,.05,.045,.055,.05,.04,.05,.045,.05,.055,.06,.065],
  [.01,.015,.018,.022,.02,.025,.022,.028,.025,.022,.028,.025,.03,.028,.025,.03,.035,.03,.025],
  [.02,.025,.035,.04,.035,.045,.05,.045,.04,.05,.045,.06,.065,.06,.05,.04,.05,.055,.045],
  [.018,.022,.028,.025,.032,.028,.035,.03,.038,.035,.03,.038,.035,.045,.04,.045,.04,.05,.06],
  [.012,.016,.02,.018,.024,.02,.026,.022,.02,.026,.022,.028,.024,.02,.025,.03,.028,.022,.02]
];
const mgrwPlatAvg = [
  [.025,.028,.034,.042,.05,.057,.062,.066,.069,.071,.073,.075,.076],
  [.025,.027,.031,.037,.043,.049,.054,.058,.06,.062,.063,.064,.064],
  [.025,.027,.029,.033,.038,.043,.047,.05,.052,.054,.055,.056,.056],
  [.025,.026,.028,.031,.034,.038,.041,.044,.046,.047,.048,.049,.049],
  [.025,.026,.027,.029,.031,.034,.036,.038,.04,.041,.042,.042,.042],
  [.025,.025,.026,.027,.028,.03,.032,.033,.034,.035,.035,.035,.036],
  [.025,.025,.025,.025,.026,.027,.028,.029,.029,.03,.03,.03,.03],
  [.025,.025,.024,.024,.024,.024,.024,.025,.025,.025,.025,.025,.024],
  [.025,.024,.023,.022,.021,.021,.021,.021,.021,.02,.02,.02,.019],
  [.025,.024,.022,.02,.018,.017,.017,.016,.016,.015,.015,.014,.013],
  [.025,.028,.033,.04,.048,.055,.058,.06,.058,.056,.055,.058,.062],
  [.025,.026,.028,.03,.033,.036,.04,.045,.05,.054,.057,.06,.062],
  [.025,.027,.032,.039,.046,.053,.058,.062,.065,.067,.068,.069,.07],
  [.025,.026,.03,.035,.04,.046,.051,.054,.056,.058,.059,.06,.06],
  [.025,.026,.028,.031,.035,.04,.044,.047,.049,.05,.051,.052,.052],
  [.025,.025,.026,.028,.03,.032,.034,.035,.036,.037,.038,.038,.039],
  [.025,.024,.024,.024,.024,.025,.026,.026,.027,.027,.027,.027,.027],
  [.025,.024,.022,.021,.02,.019,.019,.019,.018,.018,.018,.017,.017]
];
const mgrwPlatPeakRaw = [[2.93,.086],[18.65,.088],[20.27,.112],[20.8,.117],[22.9,.218],[22.83,.123],[23.1,.128],[23.77,.089],[26.46,.105],[27.37,.103],[28.99,.106],[29.97,.117],[30.95,.168],[32.87,.133],[33.06,.103],[33.2,.112],[33.4,.113],[33.62,.114],[36.7,.092],[36.74,.087],[39.38,.109],[39.45,.088],[40.69,.092],[50.86,.097],[51.9,.106]];
const mgrwPlatPeakAvg = [[9.44,.021],[10.04,.025],[10.87,.024],[11.32,.023],[20.57,.025],[21.02,.032],[21.55,.028],[21.77,.026],[21.93,.030],[22.04,.043],[22.23,.032],[22.42,.036],[22.6,.035],[22.83,.032],[23.06,.030],[23.28,.026],[23.36,.052],[28.04,.043],[28.1,.050],[28.81,.040],[28.85,.047],[29.19,.052],[29.67,.065],[29.82,.061],[30.8,.038],[32.39,.060],[34.55,.056],[34.94,.052],[35.1,.041],[35.0,.032],[36.4,.061],[36.82,.048],[37.27,.066],[37.83,.056],[38.78,.040],[38.97,.045],[39.15,.048],[41.6,.045],[42.17,.058],[42.17,.032],[42.73,.048],[43.67,.074],[43.8,.064],[43.8,.056],[43.8,.048],[43.8,.040],[43.8,.032],[43.8,.025]];

const LEGEND_LABELS = [
  "Measurements of Each Individual Probes (raw data)",
  "Peak Velocity of Each Individual Probes (raw data)",
  "Measurements of Each Individual Probes (1s moving average)",
  "Peak Velocity of Each Individual Probes (1s moving average)"
];

// layout
const W = 1375, H = 856;
const COL_X = [78.5, 738];
const ROW_Y = [44.5, 278.5, 510];
const PW = 613.5, PH = 183;
const GRAY = "#b4b4b4", LIGHT_BLUE = "#80b4f0", BLUE_DOT = "#1a48f5";
const SERIF = "'Liberation Serif', 'DejaVu Serif', 'Times New Roman', serif";

const panels = [
  {title: "SGSW (trackside height)", col: 0, row: 0, plat: false, raw: sgswTrackRaw, avg: sgswTrackAvg, pRaw: sgswTrackPeakRaw, pAvg: sgswTrackPeakAvg},
  {title: "SGSW (platform height)", col: 1, row: 0, plat: true, raw: sgswPlatRaw, avg: sgswPlatAvg, pRaw: sgswPlatPeakRaw, pAvg: sgswPlatPeakAvg},
  {title: "MGSW (trackside height)", col: 0, row: 1, plat: false, raw: mgswTrackRaw, avg: mgswTrackAvg, pRaw: mgswTrackPeakRaw, pAvg: mgswTrackPeakAvg},
  {title: "MGSW (platform height)", col: 1, row: 1, plat: true, raw: mgswPlatRaw, avg: mgswPlatAvg, pRaw: mgswPlatPeakRaw, pAvg: mgswPlatPeakAvg},
  {title: "MGRW (trackside height)", col: 0, row: 2, plat: false, raw: mgrwTrackRaw, avg: mgrwTrackAvg, pRaw: mgrwTrackPeakRaw, pAvg: mgrwTrackPeakAvg},
  {title: "MGRW (platform height)", col: 1, row: 2, plat: true, raw: mgrwPlatRaw, avg: mgrwPlatAvg, pRaw: mgrwPlatPeakRaw, pAvg: mgrwPlatPeakAvg}
];

const svg = d3.select("body").append("svg").attr("width", W).attr("height", H)
  .attr("font-family", SERIF);
svg.append("rect").attr("width", W).attr("height", H).attr("fill", "#fff");

const x = d3.scaleLinear().domain([0, X_MAX]).range([0, PW]);
const y = d3.scaleLinear().domain([0, 0.4]).range([PH, 0]);
const line = d3.line().x(d => x(d[0])).y(d => y(d[1])).curve(d3.curveCatmullRom.alpha(0.5));

panels.forEach((p, i) => {
  const g = svg.append("g").attr("transform", `translate(${COL_X[p.col]},${ROW_Y[p.row]})`);
  const clipId = "clip" + i;
  g.append("clipPath").attr("id", clipId).append("rect").attr("width", PW).attr("height", PH);

  // minor + major grid
  const minorX = d3.range(1, X_MAX).filter(t => t % 10 !== 0);
  const minorY = y.ticks(20).filter(u => Math.round(u * 100) % 10 !== 0);
  g.append("g").selectAll("line").data(minorX).join("line")
    .attr("x1", d => x(d)).attr("x2", d => x(d)).attr("y1", 0).attr("y2", PH)
    .attr("stroke", "#ebebeb").attr("stroke-width", 0.8);
  g.append("g").selectAll("line").data(minorY).join("line")
    .attr("x1", 0).attr("x2", PW).attr("y1", d => y(d)).attr("y2", d => y(d))
    .attr("stroke", "#ebebeb").attr("stroke-width", 0.8);
  g.append("g").selectAll("line").data(X_TICKS.slice(1)).join("line")
    .attr("x1", d => x(d)).attr("x2", d => x(d)).attr("y1", 0).attr("y2", PH)
    .attr("stroke", "#d2d2d2").attr("stroke-width", 0.9);
  g.append("g").selectAll("line").data(Y_TICKS.slice(1, -1)).join("line")
    .attr("x1", 0).attr("x2", PW).attr("y1", d => y(d)).attr("y2", d => y(d))
    .attr("stroke", "#d2d2d2").attr("stroke-width", 0.9);

  const plot = g.append("g").attr("clip-path", `url(#${clipId})`);
  const onset = p.plat ? d3.zip(ONSET_PLAT_T, ONSET_PLAT_U) : d3.zip(ONSET_TRACK_T, ONSET_TRACK_U);
  const rawT = p.plat ? RAW_PLAT_T : RAW_TRACK_T;

  // raw traces
  plot.append("g").selectAll("path").data(p.raw).join("path")
    .attr("d", vals => line(onset.concat(d3.zip(rawT, vals))))
    .attr("fill", "none").attr("stroke", GRAY).attr("stroke-width", 0.9);
  // overlapping bundle of the raw traces where they coincide
  plot.append("path")
    .attr("d", line(onset.filter(d => d[0] >= 3.5)))
    .attr("fill", "none").attr("stroke", "#a8a8a8").attr("stroke-width", 3);

  // moving-average traces
  plot.append("g").selectAll("path").data(p.avg).join("path")
    .attr("d", vals => line(d3.zip(AVG_T, vals)))
    .attr("fill", "none").attr("stroke", LIGHT_BLUE).attr("stroke-width", 1.2);

  // peaks
  plot.append("g").selectAll("circle").data(p.pRaw).join("circle")
    .attr("cx", d => x(d[0])).attr("cy", d => y(d[1])).attr("r", 2.5).attr("fill", "#000");
  plot.append("g").selectAll("circle").data(p.pAvg).join("circle")
    .attr("cx", d => x(d[0])).attr("cy", d => y(d[1])).attr("r", 2.5).attr("fill", BLUE_DOT);

  // frame and ticks
  g.append("rect").attr("width", PW).attr("height", PH)
    .attr("fill", "none").attr("stroke", "#8a8a8a").attr("stroke-width", 1);
  const tk = g.append("g").attr("stroke", "#8a8a8a").attr("stroke-width", 1);
  X_TICKS.forEach(t => {
    tk.append("line").attr("x1", x(t)).attr("x2", x(t)).attr("y1", PH).attr("y2", PH - 5);
    tk.append("line").attr("x1", x(t)).attr("x2", x(t)).attr("y1", 0).attr("y2", 5);
  });
  Y_TICKS.forEach(u => {
    tk.append("line").attr("x1", 0).attr("x2", 5).attr("y1", y(u)).attr("y2", y(u));
    tk.append("line").attr("x1", PW).attr("x2", PW - 5).attr("y1", y(u)).attr("y2", y(u));
  });

  g.append("g").selectAll("text").data(X_TICKS).join("text")
    .attr("x", d => x(d)).attr("y", PH + 20.5).attr("text-anchor", "middle")
    .style("font-size", "19px").text(d => d);
  g.append("g").selectAll("text").data(Y_TICKS).join("text")
    .attr("x", p.col === 0 ? -4.5 : -6.5).attr("y", d => y(d) + 6.5).attr("text-anchor", "end")
    .style("font-size", "20px").text((d, k) => Y_TICK_LABELS[k]);

  g.append("text").attr("x", PW / 2).attr("y", -5).attr("text-anchor", "middle")
    .style("font-size", "21.5px").text(p.title);

  if (p.col === 0) {
    const yl = g.append("text").attr("transform", `translate(-38,${PH / 2 + 2}) rotate(-90)`)
      .attr("text-anchor", "middle").style("font-style", "italic");
    yl.append("tspan").style("font-size", "26px").text("U");
    yl.append("tspan").attr("dy", 5).style("font-size", "18px").text("slipstream");
  }
  if (p.row === 2) {
    const xl = g.append("text").attr("x", PW / 2).attr("y", PH + 48.5).attr("text-anchor", "middle")
      .style("font-size", "23px").style("word-spacing", "3px");
    xl.append("tspan").text("Time (units: ");
    xl.append("tspan").style("font-style", "italic").text("T");
    xl.append("tspan").attr("dy", 5).style("font-style", "italic").style("font-size", "16px").text("ref");
    xl.append("tspan").attr("dy", -5).text(")");
  }

  if (p.row === 0) {
    // train symbol and note
    const x0 = x(TRAIN_START) + 1.5, x1 = x(TRAIN_END) - 0.5, yt = 7.5, yb = 17.5;
    g.append("path")
      .attr("d", `M${x0},${yb} C${x0},${yt + 3} ${x0 + 8},${yt} ${x0 + 22},${yt} L${x1 - 12},${yt} C${x1 - 3},${yt} ${x1},${yt + 3} ${x1},${yb} Z`)
      .attr("fill", "#4275ea");
    [0.06, 0.1, 0.4, 0.44, 0.55, 0.59, 0.9, 0.95].forEach(f => {
      g.append("rect").attr("x", x0 + f * (x1 - x0)).attr("y", yb - 1.6).attr("width", 3).attr("height", 1.6)
        .attr("fill", "#dfe8fb");
    });
    g.append("text").attr("x", x0).attr("y", yb + 15.5).style("font-size", "14.5px")
      .text("Duration of train passing");
  }
});

// train passage markers spanning all rows
COL_X.forEach(cx => {
  [TRAIN_START, TRAIN_END].forEach(t => {
    svg.append("line").attr("x1", cx + x(t)).attr("x2", cx + x(t))
      .attr("y1", ROW_Y[0]).attr("y2", ROW_Y[2] + PH)
      .attr("stroke", "#000").attr("stroke-width", 1.6).attr("stroke-dasharray", "2,2.5");
  });
});

// legend
const lg = svg.append("g").attr("transform", "translate(447,765)");
LEGEND_LABELS.forEach((lab, k) => {
  const row = lg.append("g").attr("transform", `translate(0,${k * 21.8})`);
  if (k % 2 === 0) {
    row.append("line").attr("x1", 0).attr("x2", 35).attr("stroke", k === 0 ? GRAY : LIGHT_BLUE).attr("stroke-width", 1.2);
  } else {
    row.append("circle").attr("cx", 18).attr("r", 2.6).attr("fill", k === 1 ? "#000" : BLUE_DOT);
  }
  row.append("text").attr("x", 43).attr("y", 6.5).style("font-size", "20px").text(lab);
});

// outer frame
svg.append("rect").attr("x", 7).attr("y", 5).attr("width", 1363).attr("height", 848)
  .attr("fill", "none").attr("stroke", "#444").attr("stroke-width", 1.3);
</script>
</body>
</html>
